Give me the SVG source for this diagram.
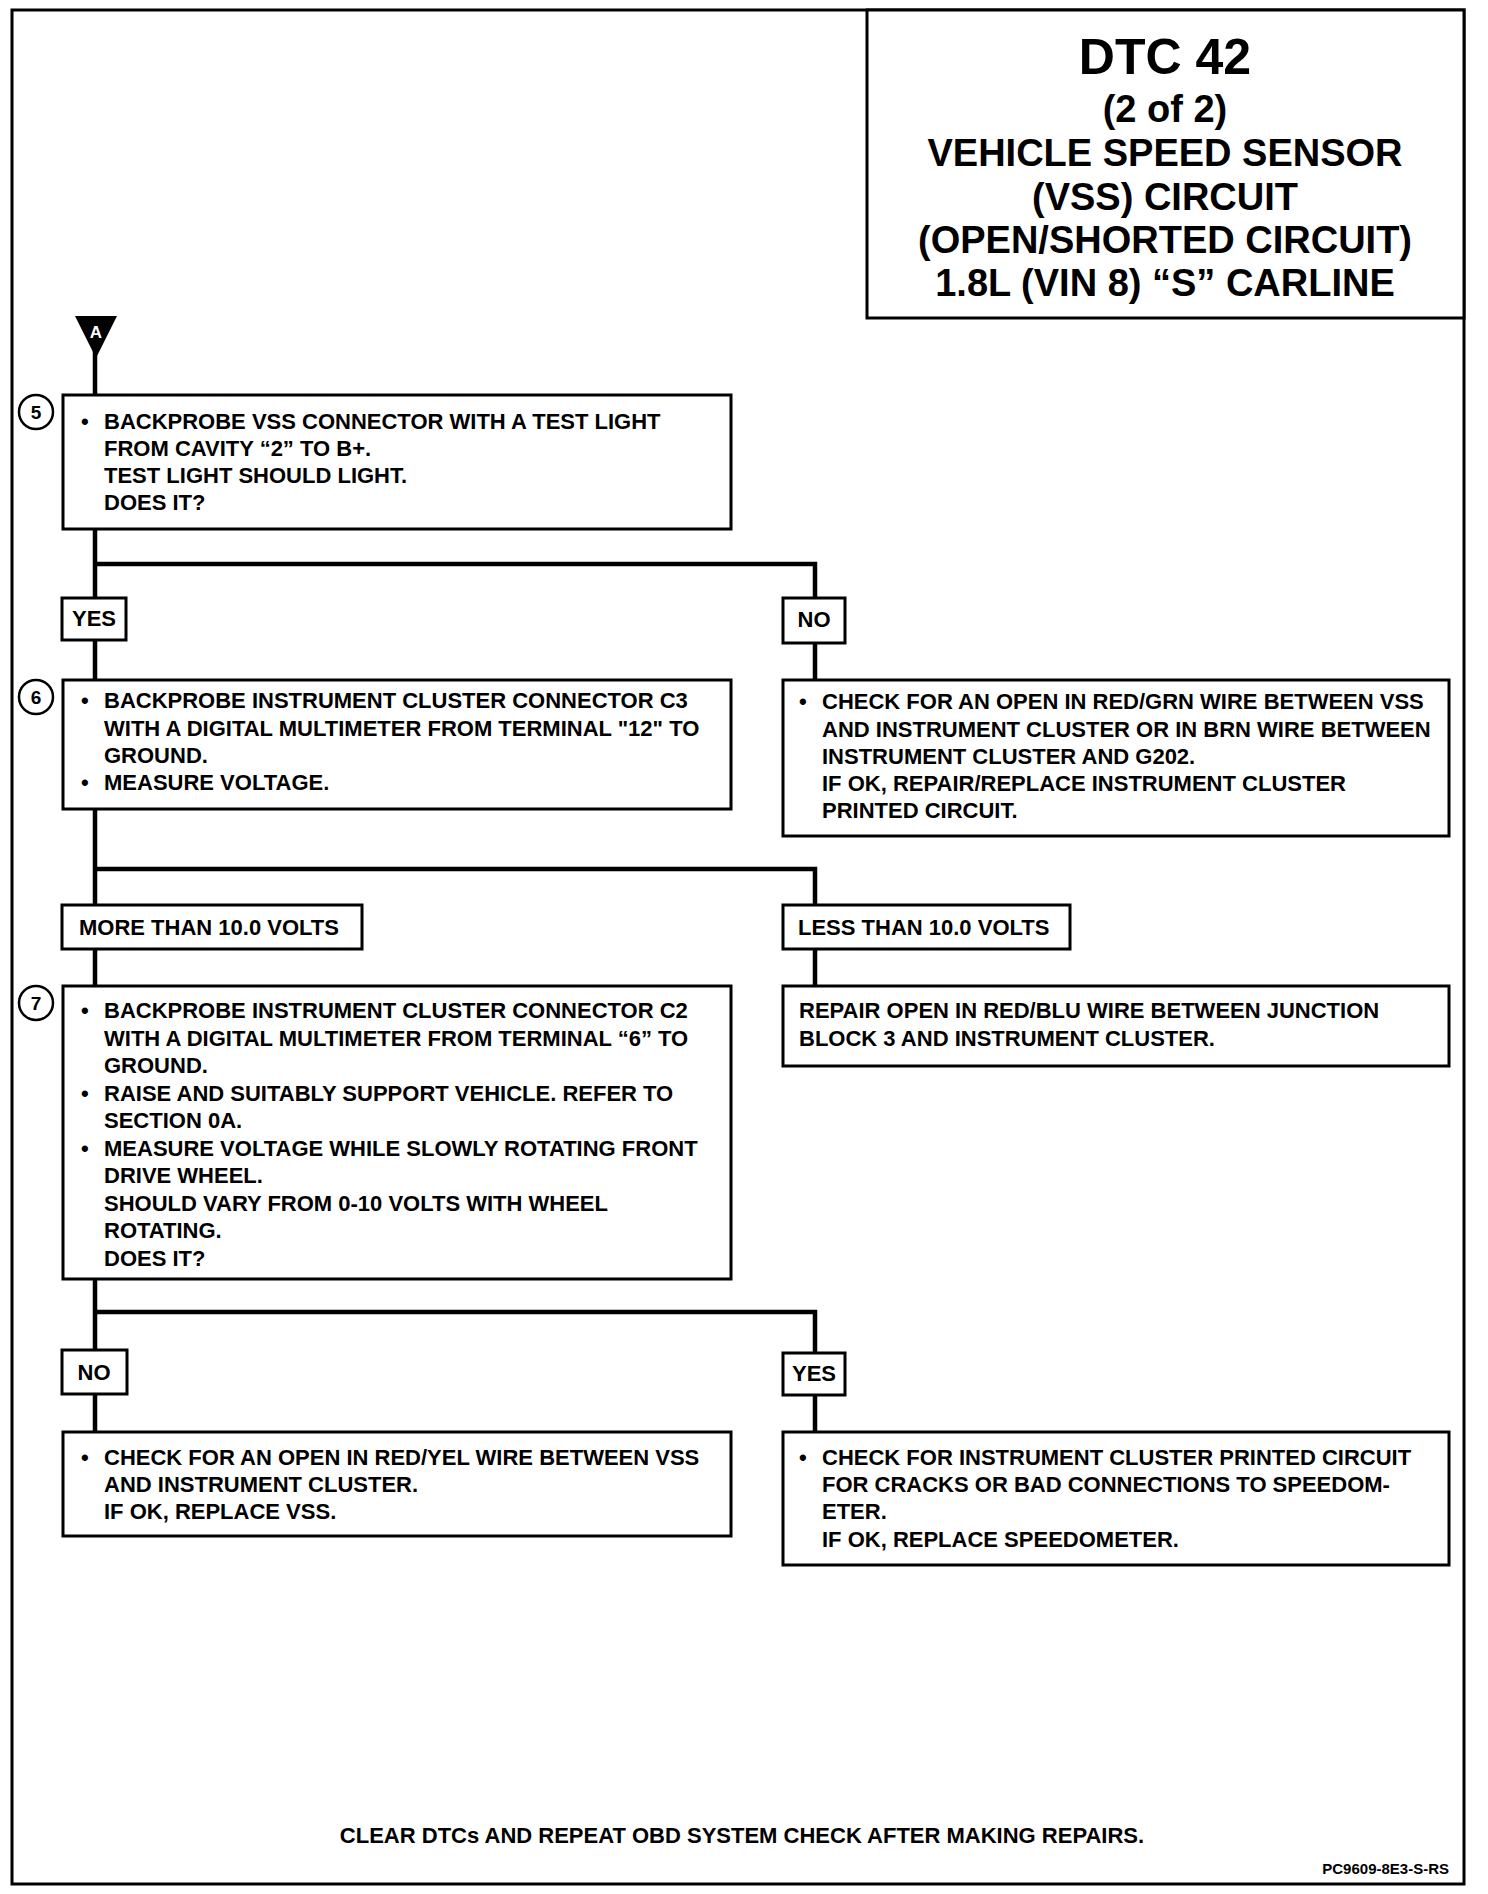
<svg xmlns="http://www.w3.org/2000/svg" width="1488" height="1894" viewBox="0 0 1488 1894">
<style>
.bx{fill:#fff;stroke:#000;stroke-width:3}
.cn{fill:none;stroke:#000;stroke-width:4.5}
.t{font-family:"Liberation Sans",Arial,sans-serif;font-weight:bold;font-size:22px;fill:#000}
.ti{font-family:"Liberation Sans",Arial,sans-serif;font-weight:bold;fill:#000;text-anchor:middle}
.num{font-family:"Liberation Sans",Arial,sans-serif;font-weight:bold;font-size:19px;fill:#000;text-anchor:middle}
.lb{font-family:"Liberation Sans",Arial,sans-serif;font-weight:bold;font-size:22px;fill:#000}
</style>
<rect width="1488" height="1894" fill="#fff"/>
<rect x="12" y="10" width="1452" height="1874" fill="none" stroke="#000" stroke-width="3"/>

<g id="title">
<rect class="bx" x="867" y="10" width="597" height="308"/>
<text class="ti" x="1165" y="74" font-size="50">DTC 42</text>
<text class="ti" x="1165" y="122" font-size="38">(2 of 2)</text>
<text class="ti" x="1165" y="166" font-size="38">VEHICLE SPEED SENSOR</text>
<text class="ti" x="1165" y="210" font-size="38">(VSS) CIRCUIT</text>
<text class="ti" x="1165" y="253" font-size="38">(OPEN/SHORTED CIRCUIT)</text>
<text class="ti" x="1165" y="296" font-size="38">1.8L (VIN 8) “S” CARLINE</text>
</g>

<g id="connectors">
<path class="cn" d="M95 350 V395"/>
<path class="cn" d="M95 529 V598 M95 564 H815 V598"/>
<path class="cn" d="M95 640 V680 M815 643 V680"/>
<path class="cn" d="M95 809 V905 M95 869 H815 V905"/>
<path class="cn" d="M95 949 V986 M815 949 V986"/>
<path class="cn" d="M95 1279 V1350 M95 1312 H815 V1353"/>
<path class="cn" d="M95 1394 V1432 M815 1395 V1432"/>
</g>

<g id="connectorA">
<polygon points="75,316 117,316 96,358" fill="#000"/>
<text x="96" y="338" font-family="Liberation Sans,Arial,sans-serif" font-weight="bold" font-size="17" fill="#fff" text-anchor="middle">A</text>
</g>

<g id="step5">
<circle cx="36" cy="412" r="17" fill="#fff" stroke="#000" stroke-width="2.5"/>
<text class="num" x="36" y="419">5</text>
<rect class="bx" x="63" y="395" width="668" height="134"/>
<text class="t" x="81" y="429">•</text>
<text class="t" x="104" y="429">BACKPROBE VSS CONNECTOR WITH A TEST LIGHT</text>
<text class="t" x="104" y="456">FROM CAVITY “2” TO B+.</text>
<text class="t" x="104" y="483">TEST LIGHT SHOULD LIGHT.</text>
<text class="t" x="104" y="510">DOES IT?</text>
</g>

<g id="yes1">
<rect class="bx" x="62" y="598" width="64" height="42"/>
<text class="lb" x="94" y="626" text-anchor="middle">YES</text>
</g>
<g id="no1">
<rect class="bx" x="783" y="598" width="62" height="45"/>
<text class="lb" x="814" y="627" text-anchor="middle">NO</text>
</g>

<g id="step6">
<circle cx="36" cy="697" r="17" fill="#fff" stroke="#000" stroke-width="2.5"/>
<text class="num" x="36" y="704">6</text>
<rect class="bx" x="63" y="680" width="668" height="129"/>
<text class="t" x="81" y="708">•</text>
<text class="t" x="104" y="708">BACKPROBE INSTRUMENT CLUSTER CONNECTOR C3</text>
<text class="t" x="104" y="736">WITH A DIGITAL MULTIMETER FROM TERMINAL "12" TO</text>
<text class="t" x="104" y="763">GROUND.</text>
<text class="t" x="81" y="790">•</text>
<text class="t" x="104" y="790">MEASURE VOLTAGE.</text>
</g>

<g id="check1">
<rect class="bx" x="783" y="680" width="666" height="156"/>
<text class="t" x="799" y="709">•</text>
<text class="t" x="822" y="709">CHECK FOR AN OPEN IN RED/GRN WIRE BETWEEN VSS</text>
<text class="t" x="822" y="737">AND INSTRUMENT CLUSTER OR IN BRN WIRE BETWEEN</text>
<text class="t" x="822" y="764">INSTRUMENT CLUSTER AND G202.</text>
<text class="t" x="822" y="791">IF OK, REPAIR/REPLACE INSTRUMENT CLUSTER</text>
<text class="t" x="822" y="818">PRINTED CIRCUIT.</text>
</g>

<g id="more10">
<rect class="bx" x="62" y="905" width="300" height="44"/>
<text class="lb" x="79" y="935">MORE THAN 10.0 VOLTS</text>
</g>
<g id="less10">
<rect class="bx" x="783" y="905" width="287" height="44"/>
<text class="lb" x="798" y="935">LESS THAN 10.0 VOLTS</text>
</g>

<g id="repair1">
<rect class="bx" x="783" y="986" width="666" height="80"/>
<text class="t" x="799" y="1018">REPAIR OPEN IN RED/BLU WIRE BETWEEN JUNCTION</text>
<text class="t" x="799" y="1046">BLOCK 3 AND INSTRUMENT CLUSTER.</text>
</g>

<g id="step7">
<circle cx="36" cy="1003" r="17" fill="#fff" stroke="#000" stroke-width="2.5"/>
<text class="num" x="36" y="1010">7</text>
<rect class="bx" x="63" y="986" width="668" height="293"/>
<text class="t" x="81" y="1018">•</text>
<text class="t" x="104" y="1018">BACKPROBE INSTRUMENT CLUSTER CONNECTOR C2</text>
<text class="t" x="104" y="1046">WITH A DIGITAL MULTIMETER FROM TERMINAL “6” TO</text>
<text class="t" x="104" y="1073">GROUND.</text>
<text class="t" x="81" y="1101">•</text>
<text class="t" x="104" y="1101">RAISE AND SUITABLY SUPPORT VEHICLE. REFER TO</text>
<text class="t" x="104" y="1128">SECTION 0A.</text>
<text class="t" x="81" y="1156">•</text>
<text class="t" x="104" y="1156">MEASURE VOLTAGE WHILE SLOWLY ROTATING FRONT</text>
<text class="t" x="104" y="1183">DRIVE WHEEL.</text>
<text class="t" x="104" y="1211">SHOULD VARY FROM 0-10 VOLTS WITH WHEEL</text>
<text class="t" x="104" y="1238">ROTATING.</text>
<text class="t" x="104" y="1266">DOES IT?</text>
</g>

<g id="no2">
<rect class="bx" x="62" y="1350" width="65" height="44"/>
<text class="lb" x="94" y="1380" text-anchor="middle">NO</text>
</g>
<g id="yes2">
<rect class="bx" x="783" y="1353" width="62" height="42"/>
<text class="lb" x="814" y="1381" text-anchor="middle">YES</text>
</g>

<g id="check2">
<rect class="bx" x="63" y="1432" width="668" height="104"/>
<text class="t" x="81" y="1465">•</text>
<text class="t" x="104" y="1465">CHECK FOR AN OPEN IN RED/YEL WIRE BETWEEN VSS</text>
<text class="t" x="104" y="1492">AND INSTRUMENT CLUSTER.</text>
<text class="t" x="104" y="1519">IF OK, REPLACE VSS.</text>
</g>

<g id="check3">
<rect class="bx" x="783" y="1432" width="666" height="133"/>
<text class="t" x="799" y="1465">•</text>
<text class="t" x="822" y="1465">CHECK FOR INSTRUMENT CLUSTER PRINTED CIRCUIT</text>
<text class="t" x="822" y="1492">FOR CRACKS OR BAD CONNECTIONS TO SPEEDOM-</text>
<text class="t" x="822" y="1519">ETER.</text>
<text class="t" x="822" y="1547">IF OK, REPLACE SPEEDOMETER.</text>
</g>

<g id="footer">
<text class="t" x="742" y="1843" text-anchor="middle" font-size="21">CLEAR DTCs AND REPEAT OBD SYSTEM CHECK AFTER MAKING REPAIRS.</text>
<text x="1449" y="1874" text-anchor="end" font-family="Liberation Sans,Arial,sans-serif" font-weight="bold" font-size="15">PC9609-8E3-S-RS</text>
</g>
</svg>
